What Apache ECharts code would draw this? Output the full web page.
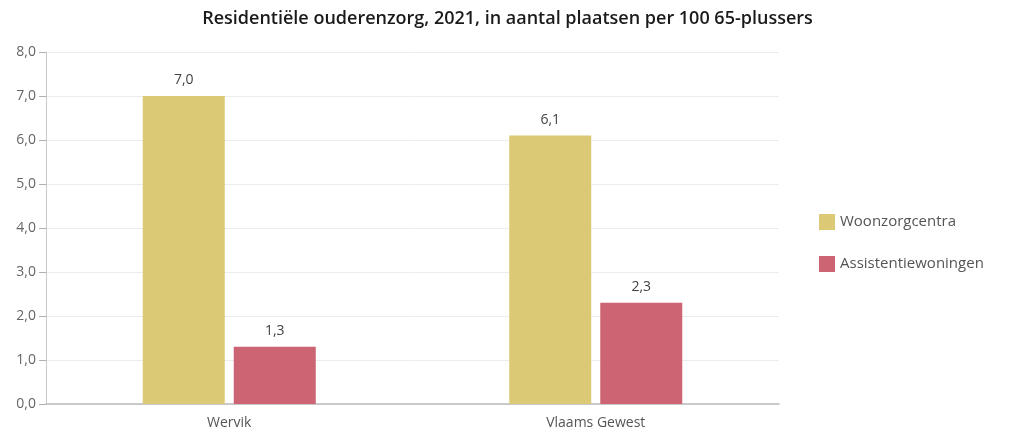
<!DOCTYPE html>
<html>
    <head>
        <meta charset="UTF-8">
        <title>Residentiële ouderenzorg</title>
        <script type="text/javascript" src="https://cdn.jsdelivr.net/npm/echarts@6/dist/echarts.min.js"></script>
    </head>
    <body style="margin:0">
        <div id="main" style="width:1015px;height:438px;"></div>
        <script type="text/javascript">
            var categories = ['Wervik', 'Vlaams Gewest'];
            var woonzorg = [7.0, 6.1];
            var assistentie = [1.3, 2.3];
            var seriesNames = ['Woonzorgcentra', 'Assistentiewoningen'];

            function fmt(v) {
                return v.toFixed(1).replace('.', ',');
            }

            var myChart = echarts.init(document.getElementById('main'));
            var option = {
                textStyle: { fontFamily: 'Open Sans' },
                title: {
                    text: 'Residentiële ouderenzorg, 2021, in aantal plaatsen per 100 65-plussers',
                    left: 'center',
                    top: 5,
                    textStyle: { fontSize: 18, fontWeight: 600, color: '#1a1a1a', fontFamily: 'Open Sans' }
                },
                legend: {
                    orient: 'vertical',
                    left: 814,
                    top: 209,
                    icon: 'rect',
                    itemWidth: 16,
                    itemHeight: 16,
                    itemGap: 26,
                    textStyle: { fontSize: 15, color: '#555' },
                    data: seriesNames
                },
                grid: { left: 46, right: 236, top: 52, bottom: 34 },
                xAxis: {
                    type: 'category',
                    data: categories,
                    axisTick: { show: false },
                    axisLine: { lineStyle: { color: '#bbb', width: 1.5 } },
                    axisLabel: { fontSize: 14, color: '#555', margin: 12 }
                },
                yAxis: {
                    type: 'value',
                    min: 0,
                    max: 8,
                    interval: 1,
                    axisLine: { show: true, lineStyle: { color: '#c8c8c8' } },
                    axisTick: { show: true, length: 7, lineStyle: { color: '#b0b0b0' } },
                    splitLine: { lineStyle: { color: '#ececec' } },
                    axisLabel: { fontSize: 14, color: '#666', margin: 10, formatter: fmt }
                },
                series: [
                    {
                        name: seriesNames[0],
                        type: 'bar',
                        data: woonzorg,
                        barWidth: 82,
                        barGap: '11%',
                        itemStyle: { color: '#dbc976' },
                        label: { show: true, position: 'top', distance: 9, fontSize: 14, color: '#444', formatter: function (p) { return fmt(p.value); } }
                    },
                    {
                        name: seriesNames[1],
                        type: 'bar',
                        data: assistentie,
                        barWidth: 82,
                        itemStyle: { color: '#cc6473' },
                        label: { show: true, position: 'top', distance: 9, fontSize: 14, color: '#444', formatter: function (p) { return fmt(p.value); } }
                    }
                ]
            };
            myChart.setOption(option);
        </script>
    </body>
</html>
